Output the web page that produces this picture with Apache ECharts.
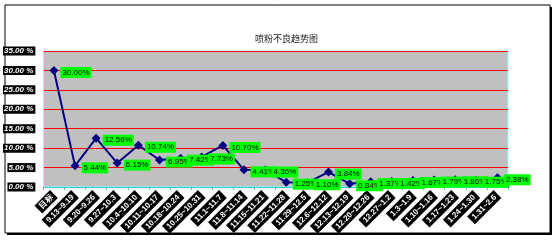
<!DOCTYPE html>
<html><head><meta charset="utf-8">
<script src="https://cdn.jsdelivr.net/npm/echarts@6/dist/echarts.min.js"></script>
<style>html,body{margin:0;padding:0;background:#fff}#c{width:558px;height:242px}</style>
</head><body><div id="c"></div>
<script>
var titleText = "喷粉不良趋势图";
var categories = ["目标","9.13~9.19","9.20~9.26","9.27~10.3","10.4~10.10","10.11~10.17","10.18~10.24","10.25~10.31","11.1~11.7","11.8~11.14","11.15~11.21","11.22~11.28","11.29~12.5","12.6~12.12","12.13~12.19","12.20~12.26","12.27~1.2","1.3~1.9","1.10~1.16","1.17~1.23","1.24~1.30","1.31~2.6"];
var values = [30.00,5.44,12.56,6.15,10.74,6.95,7.42,7.73,10.70,4.41,4.36,1.25,1.10,3.84,0.84,1.37,1.42,1.67,1.79,1.86,1.75,2.38];
var yMin = 0, yMax = 35, yStep = 5;

var chart = echarts.init(document.getElementById('c'), null, {renderer:'canvas'});
chart.setOption({
  animation:false,
  graphic:[
    {type:'rect', shape:{x:7,y:7,width:545,height:228}, style:{fill:'#000'}, z:-10},
    {type:'rect', shape:{x:5,y:5,width:545,height:228}, style:{fill:'#fff',stroke:'#000',lineWidth:1}, z:-9}
  ],
  title:{text:titleText, left:250, top:29, textStyle:{fontSize:9, fontWeight:'normal', color:'#222', fontFamily:'Noto Sans CJK SC'}},
  grid:{left:43, right:50, top:51, bottom:55, show:true, backgroundColor:'#c0c0c0', borderColor:'#99ffff', borderWidth:1},
  xAxis:{type:'category', data:categories, boundaryGap:true,
    axisLine:{lineStyle:{color:'#33cccc',width:1}},
    axisTick:{show:true, lineStyle:{color:'#33cccc'}, length:3},
    axisLabel:{rotate:45, interval:0, fontSize:8, fontWeight:'bold', color:'#fff', backgroundColor:'#000', padding:[2,3,1,3], margin:7, fontFamily:'Liberation Sans'}
  },
  yAxis:{type:'value', min:yMin, max:yMax, interval:yStep,
    axisLine:{show:true, lineStyle:{color:'#99ffff'}},
    axisTick:{show:false},
    splitLine:{show:true, lineStyle:{color:'#ff0000', width:1}},
    axisLabel:{formatter:function(v){return v.toFixed(2)+' %';}, fontSize:8, fontWeight:'bold', fontStyle:'italic', color:'#fff', backgroundColor:'#000', padding:[1,2,0,1], margin:8, fontFamily:'Liberation Sans'}
  },
  series:[{type:'line', data:values, symbol:'diamond', symbolSize:9,
    lineStyle:{color:'#000080', width:2}, itemStyle:{color:'#000080'},
    label:{show:true, position:'right', distance:2, offset:[0,2], formatter:function(p){return p.value.toFixed(2)+'%';}, fontSize:8, color:'#000', backgroundColor:'#00ff00', padding:[2,2,1,2], fontFamily:'Liberation Sans'}
  }]
});
</script></body></html>
